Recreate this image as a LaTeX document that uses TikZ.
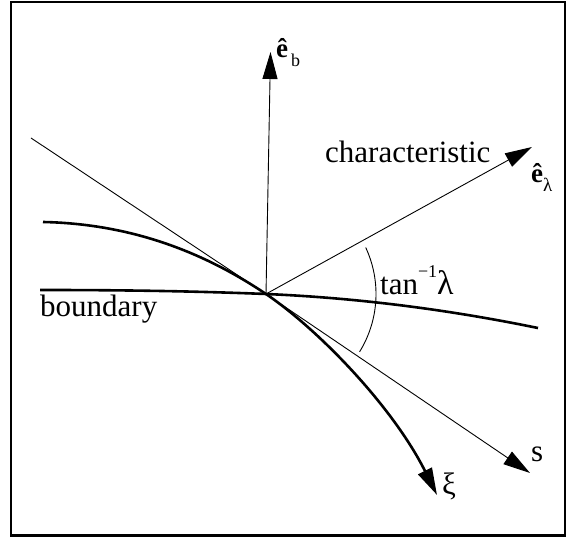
\documentclass[tikz,border=0pt]{standalone}
\usepackage{fontspec}
\setmainfont{Liberation Serif}
\usetikzlibrary{arrows.meta}
\begin{document}
\begin{tikzpicture}[x=1pt,y=1pt,
  thinline/.style={line width=0.9pt},
  thickline/.style={line width=2.6pt},
  tipped/.style={-{Triangle[length=27pt,width=15pt]}},
  lab/.style={inner sep=0pt, font=\fontsize{31}{31}\selectfont},
  ]
\useasboundingbox (0,0) rectangle (569,537);
\draw[line width=2.2pt] (11,1.5) rectangle (565,535);
\coordinate (O) at (266,243);
\coordinate (A) at (31,399);
\coordinate (stip) at (530,64);
\coordinate (ebtip) at (270.5,485);
\coordinate (eltip) at (532,390);
\coordinate (xs) at (43,315);
\coordinate (xitip) at (437,42);
\coordinate (bs) at (40,247);
\coordinate (be) at (538,209);
% thin straight line and s arrow
\draw[thinline,tipped] (A) -- (O) -- (stip);
% e_b arrow
\draw[thinline,tipped] (O) -- (ebtip);
% characteristic arrow
\draw[thinline,tipped] (O) -- (eltip);
% xi curve
\draw[thickline,tipped] (xs) .. controls (143,313) and (216,276.5) .. (O) .. controls (319,207) and (393,130) .. (xitip);
% boundary
\draw[thickline] (bs) .. controls (120,247) and (190,246) .. (O) .. controls (360,239) and (450,227) .. (be);
% angle arc
\draw[thinline] (O) ++(-31.7:110) arc[start angle=-31.7, end angle=25, radius=110];
% labels
\node[lab, anchor=base west] (charl) at (325,374) {characteristic};
\node[lab, anchor=base west] (bndl) at (40,220) {boundary};
\node[lab, anchor=base west] (tanl) at (380,242) {tan\raisebox{17pt}{\fontsize{18}{18}\selectfont −1}\fontsize{34}{34}\selectfont λ};
\node[lab, anchor=base west] (sl) at (531,75) {s};
\node[lab, anchor=base west] (xil) at (442,42) {ξ};
\node[inner sep=0pt, anchor=base west] (ebl) at (276,479) {\fontsize{27}{27}\selectfont\textbf{ê}\hspace{3pt}\raisebox{-9pt}{\fontsize{18}{18}\selectfont b}};
\node[inner sep=0pt, anchor=base west] (ell) at (531,354) {\fontsize{27}{27}\selectfont\textbf{ê}\raisebox{-9pt}{\fontsize{19}{19}\selectfont λ}};
\end{tikzpicture}
\end{document}
